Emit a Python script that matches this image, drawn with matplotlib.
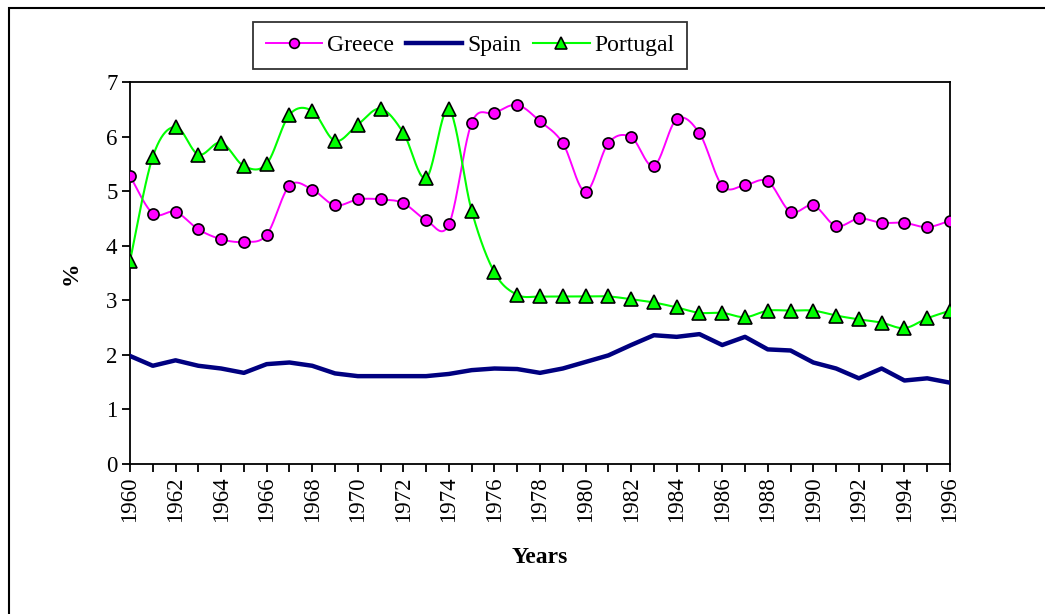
"""Unemployment-style comparison chart: Greece, Spain, Portugal 1960-1996."""

import matplotlib

matplotlib.use("Agg")
import matplotlib.pyplot as plt
import numpy as np
from matplotlib.lines import Line2D
from matplotlib.patches import Rectangle

years = list(range(1960, 1997))
greece = [5.28, 4.59, 4.62, 4.30, 4.12, 4.07, 4.20, 5.10, 5.03, 4.74,
          4.85, 4.85, 4.78, 4.47, 4.39, 6.25, 6.43, 6.58, 6.28, 5.88,
          4.99, 5.88, 5.99, 5.46, 6.32, 6.06, 5.10, 5.11, 5.18, 4.62,
          4.74, 4.36, 4.50, 4.42, 4.42, 4.34, 4.46]
spain = [1.98, 1.80, 1.90, 1.80, 1.75, 1.67, 1.83, 1.86, 1.80, 1.66,
         1.61, 1.61, 1.61, 1.61, 1.65, 1.72, 1.75, 1.74, 1.67, 1.75,
         1.87, 1.99, 2.18, 2.36, 2.33, 2.38, 2.18, 2.33, 2.10, 2.08,
         1.86, 1.75, 1.57, 1.75, 1.53, 1.57, 1.49]
portugal = [3.72, 5.63, 6.18, 5.67, 5.89, 5.46, 5.50, 6.40, 6.47, 5.92,
            6.22, 6.51, 6.07, 5.24, 6.50, 4.64, 3.51, 3.10, 3.07, 3.07,
            3.07, 3.07, 3.02, 2.96, 2.87, 2.77, 2.77, 2.69, 2.81, 2.81,
            2.81, 2.72, 2.65, 2.59, 2.49, 2.67, 2.81]
year_labels = [str(y) if y % 2 == 0 else "" for y in years]

GREECE_C = "#FF00FF"
SPAIN_C = "#000080"
PORTUGAL_C = "#00FF00"


def smooth(x, y, n=24):
    """Catmull-Rom curve through the points, like a spreadsheet 'smoothed line'."""
    p = np.column_stack([x, y]).astype(float)
    ext = np.vstack([p[0], p, p[-1]])
    out = []
    t = np.linspace(0, 1, n, endpoint=False)[:, None]
    for i in range(len(p) - 1):
        p0, p1, p2, p3 = ext[i], ext[i + 1], ext[i + 2], ext[i + 3]
        c1 = p1 + (p2 - p0) / 6
        c2 = p2 - (p3 - p1) / 6
        seg = ((1 - t) ** 3 * p1 + 3 * (1 - t) ** 2 * t * c1
               + 3 * (1 - t) * t ** 2 * c2 + t ** 3 * p2)
        out.append(seg)
    out.append(p[-1][None, :])
    pts = np.vstack(out)
    return pts[:, 0], pts[:, 1]


plt.rcParams["font.family"] = ["Liberation Serif", "DejaVu Serif"]
plt.rcParams["font.size"] = 16

fig = plt.figure(figsize=(10.45, 6.14), dpi=100)
ax = fig.add_axes([130 / 1045, 1 - 464 / 614, 820 / 1045, 382 / 614])

gx, gy = smooth(years, greece)
ax.plot(gx, gy, color=GREECE_C, lw=1.4, zorder=3)
ax.plot(years, greece, ls="none", marker="o", ms=8, mfc=GREECE_C,
        mec="black", mew=1.2, zorder=4)

ax.plot(years, spain, color=SPAIN_C, lw=3.2, zorder=3, solid_joinstyle="round")

px, py = smooth(years, portugal)
ax.plot(px, py, color=PORTUGAL_C, lw=1.5, zorder=3)
ax.plot(years, portugal, ls="none", marker="^", ms=9.5, mfc=PORTUGAL_C,
        mec="black", mew=1.2, zorder=5)

ax.set_xlim(1960, 1996)
ax.set_ylim(0, 7)
ax.set_xticks(years)
ax.set_xticklabels(year_labels, rotation=90)
ax.set_yticks(range(0, 8))
ax.tick_params(axis="both", direction="out", length=6, width=1.3,
               labelsize=16.5, pad=3)
for s in ax.spines.values():
    s.set_linewidth(1.3)

ax.set_xlabel("Years", fontsize=17, fontweight="bold")
ax.xaxis.set_label_coords(0.5, -0.217)
ax.set_ylabel("%", fontsize=17, fontweight="bold")
ax.yaxis.set_label_coords(-0.059, 0.5)

handles = [
    Line2D([], [], color=GREECE_C, lw=1.4, marker="o", ms=7, mfc=GREECE_C,
           mec="black", mew=1.2),
    Line2D([], [], color=SPAIN_C, lw=3.2),
    Line2D([], [], color=PORTUGAL_C, lw=1.5, marker="^", ms=8, mfc=PORTUGAL_C,
           mec="black", mew=1.2),
]
leg = fig.legend(handles, ["Greece", "Spain", "Portugal"], loc="center",
                 bbox_to_anchor=(470 / 1045, 1 - 45.5 / 614), ncol=3,
                 fontsize=17, frameon=True, fancybox=False, handlelength=2.4,
                 handletextpad=0.2, columnspacing=0.5, borderpad=0.55,
                 borderaxespad=0)
leg.get_frame().set_edgecolor("black")
leg.get_frame().set_linewidth(1.3)

# outer chart-area border (right/bottom edges fall outside the image)
fig.patches.append(Rectangle((9 / 1045, -0.1), 1.2, 1.1 - 8 / 614,
                             transform=fig.transFigure, fill=False,
                             edgecolor="black", lw=1.5))

fig.savefig("out.png", dpi=100)
